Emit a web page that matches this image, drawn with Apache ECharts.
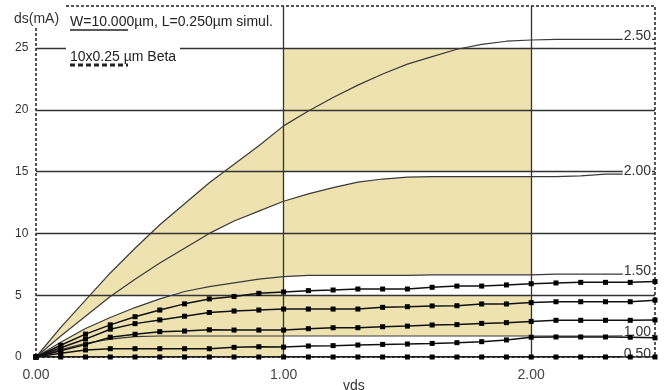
<!DOCTYPE html>
<html>
<head>
<meta charset="utf-8">
<script src="https://cdn.jsdelivr.net/npm/echarts@6/dist/echarts.min.js"></script>
<style>
  html, body { margin: 0; padding: 0; background: #fff; }
  #chart { width: 670px; height: 390px; }
</style>
</head>
<body>
<div id="chart"></div>
<script>
// sample points along vds (V)
const vds = [0, 0.1, 0.2, 0.3, 0.4, 0.5, 0.6, 0.7, 0.8, 0.9, 1.0, 1.1, 1.2, 1.3,
  1.4, 1.5, 1.6, 1.7, 1.8, 1.9, 2.0, 2.1, 2.2, 2.3, 2.4, 2.5]

// simulated curves, Ids in mA, one per vgs
const simNames = ['2.50', '2.00', '1.50', '1.00', '0.50']
const sim250 = [0, 2.4, 4.6, 6.8, 8.8, 10.7, 12.4, 14.1, 15.6, 17.1, 18.7, 19.9, 21.0,
  22.0, 22.9, 23.7, 24.3, 24.9, 25.3, 25.55, 25.65, 25.7, 25.7, 25.7, 25.7, 25.7]
const sim200 = [0, 1.7, 3.3, 4.9, 6.3, 7.6, 8.8, 10.0, 11.0, 11.8, 12.6, 13.2, 13.7,
  14.15, 14.4, 14.55, 14.6, 14.6, 14.6, 14.6, 14.6, 14.6, 14.65, 14.8, 14.8, 14.8]
const sim150 = [0, 1.2, 2.3, 3.2, 4.0, 4.7, 5.3, 5.7, 6.0, 6.3, 6.5, 6.6, 6.6,
  6.6, 6.6, 6.6, 6.65, 6.65, 6.65, 6.65, 6.65, 6.7, 6.7, 6.7, 6.7, 6.7]
const sim100 = [0, 0.6, 1.1, 1.45, 1.65, 1.7, 1.7, 1.7, 1.7, 1.7, 1.7, 1.7, 1.7,
  1.7, 1.7, 1.7, 1.7, 1.7, 1.7, 1.7, 1.7, 1.7, 1.7, 1.7, 1.72, 1.75]
const sim050 = [0, 0.02, 0.02, 0.02, 0.02, 0.02, 0.02, 0.02, 0.02, 0.02, 0.02, 0.02, 0.02,
  0.02, 0.02, 0.02, 0.02, 0.02, 0.02, 0.02, 0.02, 0.02, 0.02, 0.02, 0.02, 0.02]

// measured curves (10x0.25 um Beta)
const meas1 = [0, 0.95, 1.85, 2.6, 3.26, 3.8, 4.3, 4.7, 4.9, 5.15, 5.26, 5.37, 5.42,
  5.5, 5.5, 5.5, 5.64, 5.74, 5.74, 5.83, 5.93, 5.99, 6.04, 6.04, 6.04, 6.1]
const meas2 = [0, 0.75, 1.45, 2.25, 2.7, 3.0, 3.3, 3.6, 3.72, 3.8, 3.88, 3.88, 3.88,
  3.88, 4.02, 4.07, 4.13, 4.15, 4.29, 4.29, 4.4, 4.47, 4.47, 4.47, 4.47, 4.6]
const meas3 = [0, 0.5, 1.0, 1.6, 1.84, 2.05, 2.1, 2.2, 2.18, 2.18, 2.18, 2.29, 2.37,
  2.37, 2.45, 2.5, 2.59, 2.62, 2.72, 2.78, 2.88, 2.97, 2.97, 2.97, 2.97, 3.0]
const meas4 = [0, 0.3, 0.57, 0.67, 0.67, 0.67, 0.67, 0.67, 0.78, 0.83, 0.8, 0.89, 0.92,
  0.97, 1.02, 1.05, 1.1, 1.16, 1.24, 1.38, 1.6, 1.62, 1.62, 1.62, 1.6, 1.55]
const meas5 = [0, 0, 0, 0, 0, 0, 0, 0, 0, 0, 0, 0, 0,
  0, 0, 0, 0, 0, 0, 0, 0, 0, 0, 0, 0, 0]

const sims = [sim250, sim200, sim150, sim100, sim050]
const meas = [meas1, meas2, meas3, meas4, meas5]

const font = 'Liberation Sans, Arial, sans-serif'
const tan = '#EEE2B0'
const ink = '#333'

// shaded bands (upper / lower edge per sample index)
function band(i0, i1, up, lo) {
  const upper = []
  const lower = []
  for (let i = i0; i <= i1; i++) {
    upper.push([vds[i], up(i)])
    lower.push([vds[i], lo(i)])
  }
  return { upper, lower }
}
const top2 = i => Math.min(sim200[i], 10)
const bands = [
  band(0, 10, i => sim250[i], i => sim200[i]),
  band(0, 10, i => top2(i), i => Math.min(top2(i), Math.max(5, sim150[i]))),
  band(0, 10, i => Math.min(sim150[i], top2(i)), i => 0),
  band(10, 20, i => 25, i => 15),
  band(10, 20, i => sim200[i], i => sim150[i]),
  band(10, 20, i => 5, i => sim100[i])
]

const series = [{
  type: 'custom',
  z: -1,
  silent: true,
  data: bands.map((b, i) => [0, 0]),
  renderItem(params, api) {
    const b = bands[params.dataIndex]
    const pts = b.upper.map(p => api.coord(p))
      .concat(b.lower.slice().reverse().map(p => api.coord(p)))
    return { type: 'polygon', shape: { points: pts }, style: { fill: tan } }
  }
}]

sims.forEach((arr, k) => {
  series.push({
    name: simNames[k],
    type: 'line',
    data: arr.map((v, i) => [vds[i], v]),
    showSymbol: false,
    lineStyle: { color: '#3a3a3a', width: 1.2 },
    z: 3,
    endLabel: {
      show: true,
      formatter: '{a}',
      align: 'right',
      verticalAlign: 'middle',
      distance: 0,
      offset: [-3, -3],
      color: ink,
      fontFamily: font,
      fontSize: 14,
      backgroundColor: '#fff',
      padding: [0, 1]
    }
  })
})

meas.forEach((arr, k) => {
  series.push({
    name: 'meas' + k,
    type: 'line',
    data: arr.map((v, i) => [vds[i], v]),
    symbol: 'rect',
    symbolSize: 5,
    itemStyle: { color: '#000' },
    lineStyle: { color: '#111', width: 1.5 },
    z: 4
  })
})

const chart = echarts.init(document.getElementById('chart'))
chart.setOption({
  animation: false,
  grid: {
    left: 36, right: 15, top: 6, bottom: 33,
    show: true,
    borderColor: '#555',
    borderWidth: 2,
    borderType: [3, 2]
  },
  xAxis: {
    type: 'value',
    min: 0,
    max: 2.5,
    interval: 1,
    axisLine: { show: false },
    axisTick: { show: false },
    axisLabel: {
      margin: 11,
      fontSize: 14,
      fontFamily: font,
      color: '#444',
      showMaxLabel: false,
      formatter: v => v.toFixed(2)
    },
    splitLine: {
      show: true,
      showMinLine: false,
      showMaxLine: false,
      lineStyle: { color: '#333', width: 1.3 }
    }
  },
  yAxis: {
    type: 'value',
    min: 0,
    max: 28.4,
    interval: 5,
    axisLine: { show: false },
    axisTick: { show: false },
    axisLabel: {
      align: 'left',
      margin: 21,
      fontSize: 12,
      fontFamily: font,
      color: ink,
      showMaxLabel: false
    },
    splitLine: {
      show: true,
      showMinLine: false,
      showMaxLine: false,
      lineStyle: { color: '#333', width: 1.3 }
    }
  },
  graphic: [
    { type: 'rect', z: 50, shape: { x: 28, y: 0, width: 38, height: 27 }, style: { fill: '#fff' } },
    { type: 'text', z: 51, left: 14, top: 12, style: { text: 'ds(mA)', font: '14px ' + font, fill: ink } },
    { type: 'text', z: 51, left: 70, top: 15, style: { text: 'W=10.000µm, L=0.250µm simul.', font: '14px ' + font, fill: '#222' } },
    { type: 'line', z: 51, shape: { x1: 70, y1: 30, x2: 128, y2: 30 }, style: { stroke: '#222', lineWidth: 1.5 } },
    { type: 'rect', z: 50, shape: { x: 66, y: 43, width: 114, height: 24 }, style: { fill: '#fff' } },
    { type: 'text', z: 51, left: 70, top: 50, style: { text: '10x0.25 µm Beta', font: '14px ' + font, fill: '#222' } },
    { type: 'line', z: 51, shape: { x1: 70, y1: 65, x2: 128, y2: 65 }, style: { stroke: '#222', lineWidth: 3, lineDash: [5, 3] } },
    { type: 'text', z: 51, left: 343, top: 379, style: { text: 'vds', font: '14px ' + font, fill: ink } }
  ],
  series: series
})
</script>
</body>
</html>
